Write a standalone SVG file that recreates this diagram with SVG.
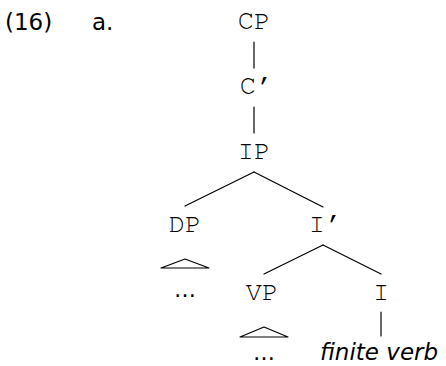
<svg xmlns="http://www.w3.org/2000/svg" width="446" height="366" viewBox="0 0 446 366">
  <style>
    .lbl { font-family: "Nimbus Mono PS", "FreeMono", "Courier New", "Liberation Mono", monospace; font-size: 27px; fill: #000; text-anchor: middle; }
    .sans { font-family: "DejaVu Sans", "Noto Sans", sans-serif; font-size: 23px; fill: #000; }
    .dots { font-family: "DejaVu Sans", sans-serif; font-size: 22px; fill: #000; text-anchor: middle; }
    .edge { stroke: #000; stroke-width: 1.2; fill: none; stroke-linecap: round; }
    .tri { stroke: #000; stroke-width: 1.2; fill: none; stroke-linejoin: round; }
  </style>
  <rect width="446" height="366" fill="#fff"/>

  <!-- example number -->
  <text class="sans" x="5" y="30">(16)</text>
  <text class="sans" x="92" y="30">a.</text>

  <!-- connectors -->
  <g id="connectors">
    <line class="edge" x1="254" y1="42" x2="254" y2="68"/>
    <line class="edge" x1="254" y1="107" x2="254" y2="133"/>
    <line class="edge" x1="254" y1="172" x2="185" y2="206"/>
    <line class="edge" x1="254" y1="172" x2="323" y2="207"/>
    <line class="edge" x1="323" y1="245" x2="264" y2="274"/>
    <line class="edge" x1="323" y1="245" x2="381" y2="274"/>
    <line class="edge" x1="381" y1="312" x2="381" y2="336"/>
  </g>

  <g id="CP"><text class="lbl" x="254" y="29">CP</text></g>
  <g id="Cbar"><text class="lbl" x="256" y="94">C′</text></g>
  <g id="IP"><text class="lbl" x="254" y="159">IP</text></g>
  <g id="DP">
    <text class="lbl" x="185" y="232">DP</text>
    <polygon class="tri" points="185,259 209,268 161,268"/>
    <text class="dots" x="185" y="297">…</text>
  </g>
  <g id="Ibar"><text class="lbl" x="325" y="232">I′</text></g>
  <g id="VP">
    <text class="lbl" x="262" y="300">VP</text>
    <polygon class="tri" points="264,327 288,337 240,337"/>
    <text class="dots" x="264" y="360">…</text>
  </g>
  <g id="I"><text class="lbl" x="381" y="300">I</text></g>
  <g id="finite-verb"><text class="sans" x="320" y="360" font-size="22" font-style="italic">finite verb</text></g>
</svg>
